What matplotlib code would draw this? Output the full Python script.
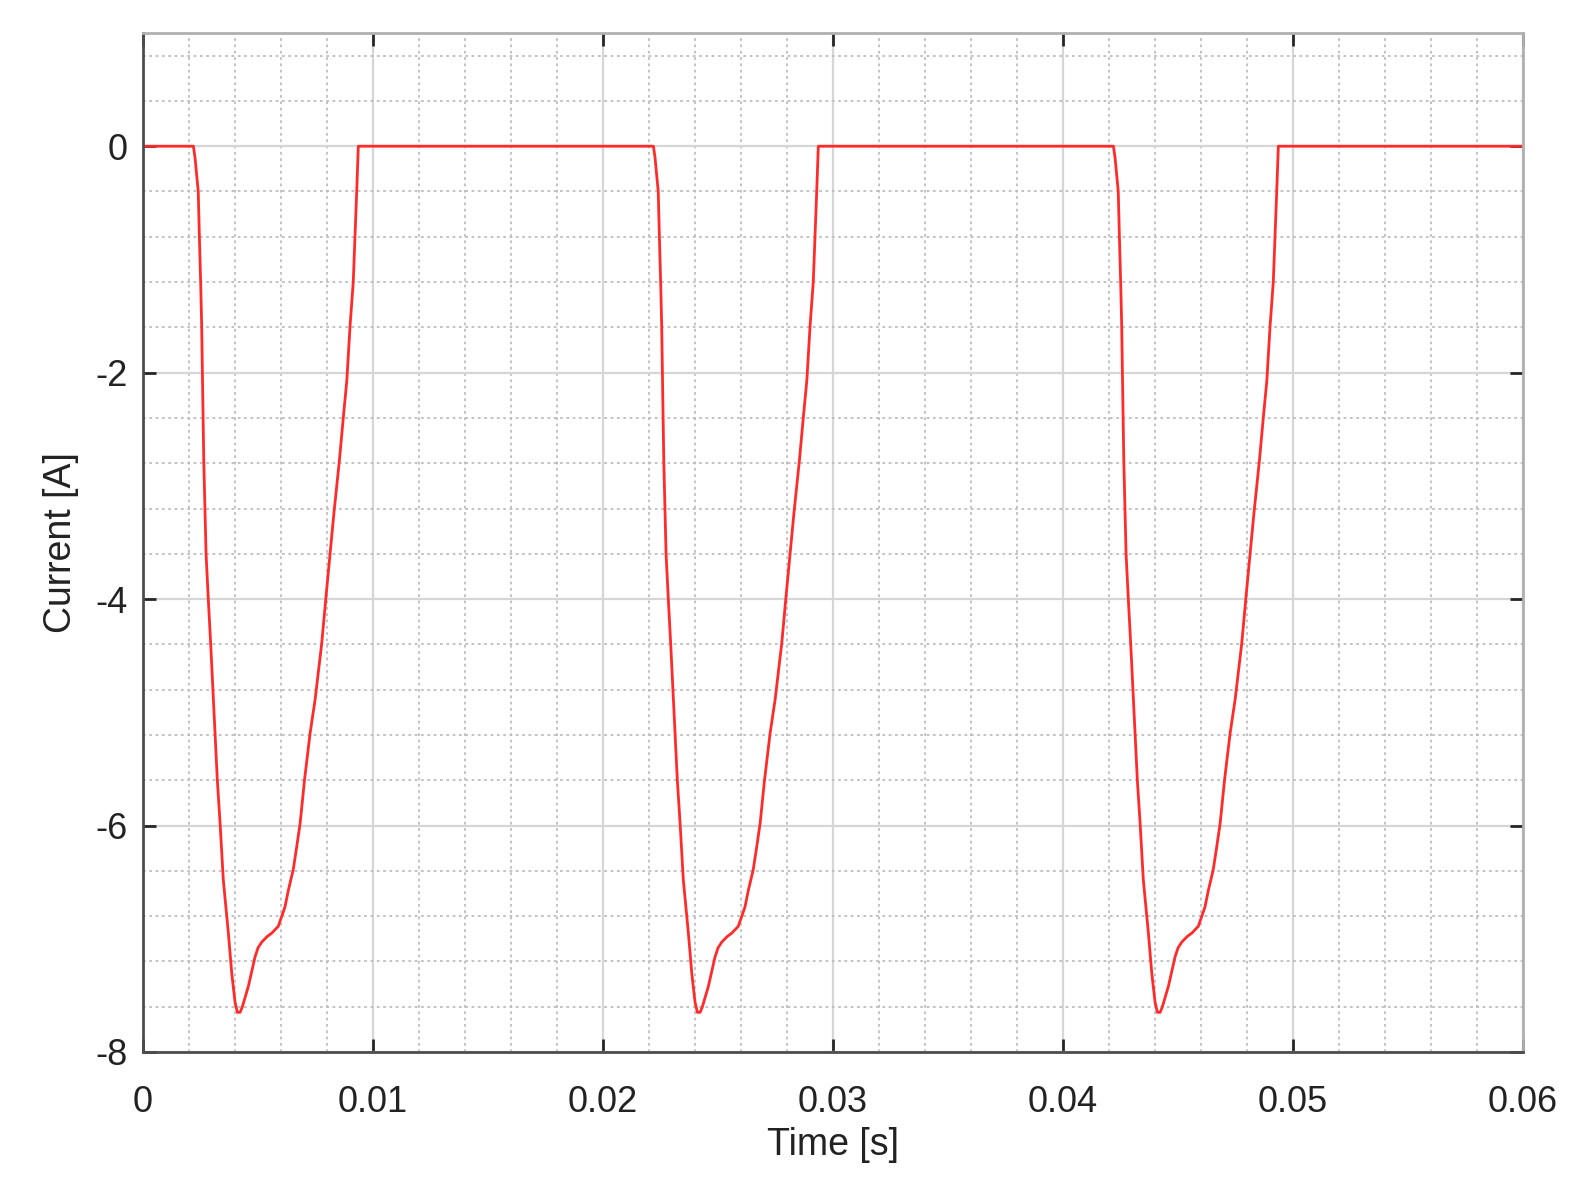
import numpy as np
import matplotlib
matplotlib.use("Agg")
import matplotlib.pyplot as plt
from matplotlib.ticker import MultipleLocator

# one pulse of the current, time measured from the start of each 20 ms cycle
pulse_t = [0.0, 0.00219, 0.00226, 0.00240, 0.00245, 0.00251, 0.00255, 0.00258,
           0.00264, 0.00274, 0.00284, 0.00294, 0.00303, 0.00313, 0.00323, 0.00335,
           0.00349, 0.00371, 0.00386, 0.00400, 0.00410, 0.00422, 0.00432, 0.00458,
           0.00487, 0.00500, 0.00516, 0.00540, 0.00560, 0.00588, 0.00617, 0.00632,
           0.00653, 0.00668, 0.00683, 0.00702, 0.00726, 0.00748, 0.00777, 0.00794,
           0.00813, 0.00830, 0.00854, 0.00871, 0.00886, 0.00900, 0.00914, 0.00929,
           0.00936]
pulse_i = [0.0, 0.0, -0.10, -0.40, -0.80, -1.24, -1.59, -2.00,
           -2.77, -3.60, -4.01, -4.39, -4.77, -5.19, -5.60, -5.98,
           -6.48, -6.95, -7.31, -7.56, -7.65, -7.65, -7.60, -7.42,
           -7.16, -7.08, -7.03, -6.98, -6.95, -6.89, -6.72, -6.57,
           -6.39, -6.19, -5.98, -5.60, -5.19, -4.89, -4.39, -4.01,
           -3.60, -3.24, -2.77, -2.39, -2.07, -1.59, -1.20, -0.40,
           0.0]
cycle_starts = [0.0, 0.02, 0.04]
t_end = 0.06

t_all = []
i_all = []
for t0 in cycle_starts:
    t_all += [t0 + t for t in pulse_t]
    i_all += pulse_i
t_all.append(t_end)
i_all.append(0.0)

plt.rcParams['font.family'] = ['Liberation Sans', 'DejaVu Sans']

fig = plt.figure(figsize=(15.91, 11.95), dpi=100)
ax = fig.add_axes([0.0899, 0.1197, 0.8674, 0.8527])

ax.plot(t_all, i_all, color='#ff2a2a', linewidth=2.0)

ax.set_xlim(0, 0.06)
ax.set_ylim(-8, 1)
ax.xaxis.set_major_locator(MultipleLocator(0.01))
ax.xaxis.set_minor_locator(MultipleLocator(0.002))
ax.yaxis.set_major_locator(MultipleLocator(2))
ax.yaxis.set_minor_locator(MultipleLocator(0.4))
ax.set_xticks([0, 0.01, 0.02, 0.03, 0.04, 0.05, 0.06])
ax.set_xticklabels(['0', '0.01', '0.02', '0.03', '0.04', '0.05', '0.06'])
ax.set_yticks([-8, -6, -4, -2, 0])
ax.set_yticklabels(['-8', '-6', '-4', '-2', '0'])

ax.grid(which='major', color='#d6d6d6', linewidth=1.6, linestyle='-')
ax.grid(which='minor', color='#bdbdbd', linewidth=1.3, linestyle=(0, (1.5, 2.0)))
ax.set_axisbelow(True)

ax.tick_params(which='major', direction='in', length=9.5, width=2.0, color='#262626',
               top=True, right=True, labelsize=26, labelcolor='#222222')
ax.tick_params(which='minor', length=0)
ax.tick_params(axis='x', pad=24)
ax.tick_params(axis='y', pad=11)

for side in ['left', 'bottom']:
    ax.spines[side].set_color('#4d4d4d')
    ax.spines[side].set_linewidth(2.0)
for side in ['top', 'right']:
    ax.spines[side].set_color('#b0b0b0')
    ax.spines[side].set_linewidth(2.0)

ax.set_xlabel("Time [s]", fontsize=27, color='#222222', labelpad=5)
ax.set_ylabel("Current [A]", fontsize=27, color='#222222', labelpad=12)

fig.savefig("out.png", dpi=100, facecolor='white')
